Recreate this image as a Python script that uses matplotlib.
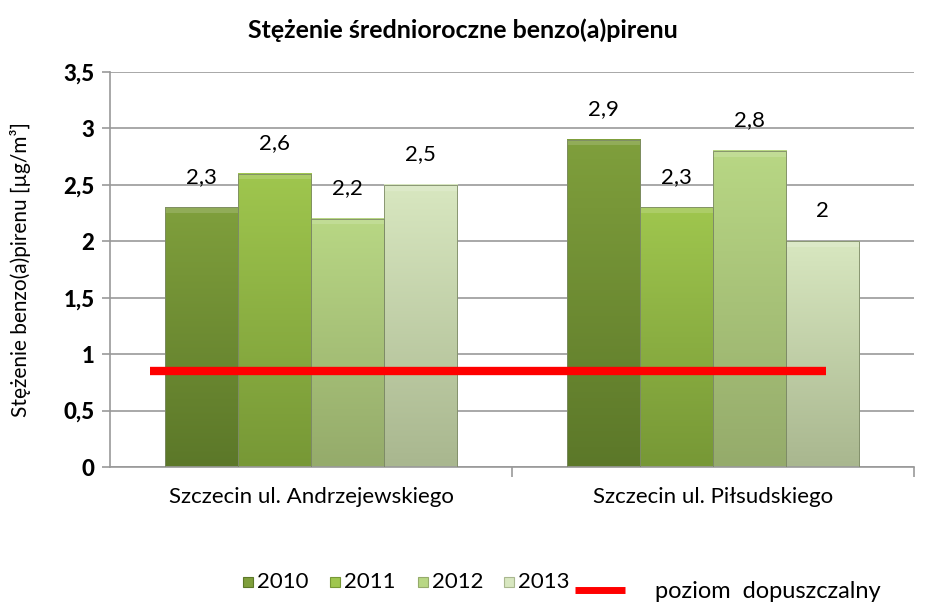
import matplotlib
matplotlib.use("Agg")
import matplotlib.pyplot as plt
import numpy as np
from matplotlib.colors import LinearSegmentedColormap
from matplotlib.patches import Rectangle
from matplotlib.lines import Line2D

plt.rcParams["font.family"] = ["Lato", "DejaVu Sans"]

stations = ["Szczecin ul. Andrzejewskiego", "Szczecin ul. Piłsudskiego"]
years = ["2010", "2011", "2012", "2013"]
values = {
    "2010": [2.3, 2.9],
    "2011": [2.6, 2.3],
    "2012": [2.2, 2.8],
    "2013": [2.5, 2.0],
}
labels = {
    "2010": ["2,3", "2,9"],
    "2011": ["2,6", "2,3"],
    "2012": ["2,2", "2,8"],
    "2013": ["2,5", "2"],
}
limit_value = 0.85
yticks = [0, 0.5, 1, 1.5, 2, 2.5, 3, 3.5]
yticklabels = ["0", "0,5", "1", "1,5", "2", "2,5", "3", "3,5"]

# (top, bottom) gradient colours per year
COLORS = {
    "2010": ("#7f9f3c", "#5c7829"),
    "2011": ("#9fc64e", "#779836"),
    "2012": ("#b8d784", "#95ab6b"),
    "2013": ("#d8e7c0", "#a9b78f"),
}

fig = plt.figure(figsize=(9.26, 6.04), dpi=100)
ax = fig.add_axes([0.1188, 0.2268, 0.8683, 0.654])

x = np.arange(len(stations))
w = 0.1816
for i, yr in enumerate(years):
    top, bot = COLORS[yr]
    cmap = LinearSegmentedColormap.from_list(yr, [bot, top])
    xs = x + (i - 1.5) * w
    bars = ax.bar(xs, values[yr], width=w, color=top, linewidth=0, zorder=2)
    for b, lab in zip(bars, labels[yr]):
        x0, h = b.get_x(), b.get_height()
        grad = np.linspace(0, 1, 100).reshape(-1, 1)
        ax.imshow(grad, cmap=cmap, origin="lower", aspect="auto",
                  extent=(x0, x0 + w, 0, h), zorder=2.5)
        # soft bevel highlight on top
        ax.add_patch(Rectangle((x0, h - 0.05), w, 0.05, facecolor="white",
                               alpha=0.15, lw=0, zorder=2.6))
        ax.add_patch(Rectangle((x0, 0), w, h, fill=False, edgecolor="#7d8a66",
                               lw=0.6, zorder=2.7))
        ax.annotate(lab, (x0 + w / 2, h), xytext=(0, 22), textcoords="offset points",
                    ha="center", va="center", fontsize=16)

ax.plot([-0.40, 1.281], [limit_value, limit_value], color="#ff0000", lw=6,
        solid_capstyle="butt", zorder=4)

ax.set_xlim(-0.5, 1.5)
ax.set_ylim(0, 3.5)
ax.set_yticks(yticks)
ax.set_yticklabels(yticklabels, fontsize=16, fontweight="black")
ax.yaxis.grid(True, color="#999999", lw=1.2)
ax.set_axisbelow(True)
ax.set_xticks([0.5, 1.5])
ax.set_xticklabels(["", ""])
ax.tick_params(axis="x", length=7, color="#999999", width=1.2, direction="out")
ax.tick_params(axis="y", length=6, color="#999999", width=1.2, pad=5)
for s in ["top", "right"]:
    ax.spines[s].set_visible(False)
for s in ["left", "bottom"]:
    ax.spines[s].set_color("#999999")
    ax.spines[s].set_linewidth(1.2)
for xi, st in zip(x, stations):
    ax.text(xi, -0.27, st, ha="center", va="center", fontsize=16)

ax.set_ylabel("Stężenie benzo(a)pirenu [µg/m³]", fontsize=15)
ax.yaxis.set_label_coords(-0.098, 0.5)
fig.text(0.5, 1 - 30 / 604, "Stężenie średnioroczne benzo(a)pirenu", ha="center",
         va="center", fontsize=18, fontweight="bold")

# legend drawn by hand to match the original placement
leg_y = 1 - 582 / 604
for yr, sx in zip(years, [243, 330, 418, 504]):
    fig.patches.append(Rectangle((sx / 926, leg_y - 5 / 604), 10 / 926, 10 / 604,
                                 transform=fig.transFigure, facecolor=COLORS[yr][0],
                                 edgecolor=COLORS[yr][1], lw=0.8))
    fig.text((sx + 14) / 926, leg_y, yr, ha="left", va="center", fontsize=16)
fig.add_artist(Line2D([575 / 926, 625 / 926], [1 - 590 / 604] * 2, color="#ff0000",
                      lw=5, transform=fig.transFigure, solid_capstyle="butt"))
fig.text(655 / 926, 1 - 591 / 604, "poziom  dopuszczalny", ha="left", va="center",
         fontsize=17)

fig.savefig("out.png", dpi=100)
